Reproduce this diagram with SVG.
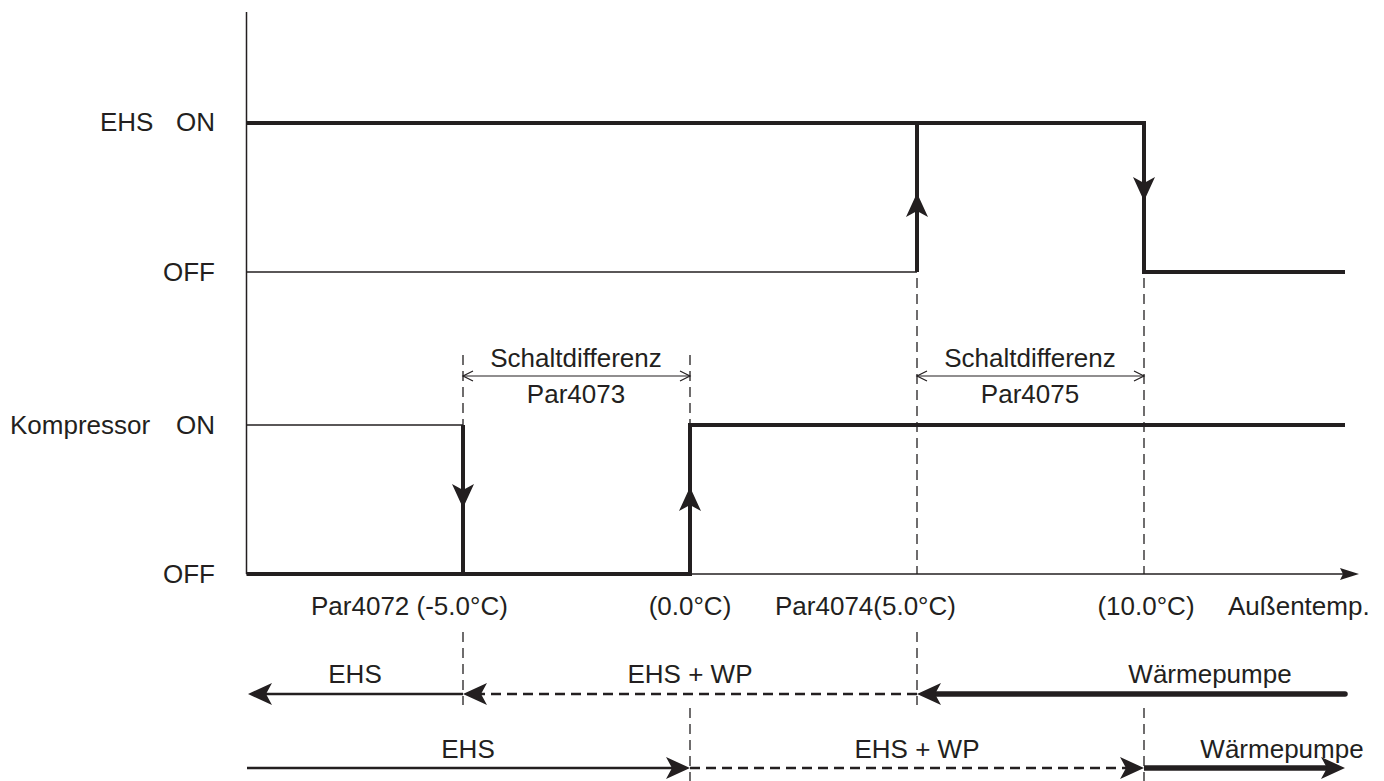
<svg xmlns="http://www.w3.org/2000/svg" width="1384" height="781" viewBox="0 0 1384 781">
<style>
text{font-family:"Liberation Sans",Arial,sans-serif;font-size:26px;fill:#231f20}
.mid{text-anchor:middle}
.end{text-anchor:end}
.thin{stroke:#231f20;stroke-width:1.5;fill:none}
.thick{stroke:#231f20;stroke-width:4;fill:none}
.guide{stroke:#231f20;stroke-width:1.3;fill:none;stroke-dasharray:10 6}
.sol{stroke:#231f20;stroke-width:2.5;fill:none}
.dash{stroke:#231f20;stroke-width:2.5;fill:none;stroke-dasharray:10 6}
.bold{stroke:#231f20;stroke-width:5.5;fill:none;stroke-linecap:round}
.dim{stroke:#231f20;stroke-width:1.2;fill:none}
.ah{fill:#231f20}
</style>
<defs>
<path id="head" d="M0,0 L-24,-11 L-18,0 L-24,11 Z"/>
<path id="axhead" d="M0,0 L-19,-6 L-16,0 L-19,6 Z"/>
<path id="chev" d="M-10,-5 L0,0 L-10,5"/>
</defs>
<g id="labels">
<text x="100" y="131">EHS</text>
<text x="215" y="131" class="end">ON</text>
<text x="215" y="281" class="end">OFF</text>
<text x="10" y="434">Kompressor</text>
<text x="215" y="434" class="end">ON</text>
<text x="215" y="583" class="end">OFF</text>
</g>
<g id="axes">
<line x1="246.5" y1="12" x2="246.5" y2="574" class="thin"/>
<line x1="246.5" y1="574" x2="1345" y2="574" class="thin"/>
<use href="#axhead" x="1359" y="574" class="ah"/>
<line x1="246.5" y1="272" x2="917" y2="272" class="thin"/>
<line x1="246.5" y1="425" x2="463" y2="425" class="thin"/>
</g>
<g id="guides">
<line x1="463" y1="355" x2="463" y2="574" class="guide"/>
<line x1="463" y1="632" x2="463" y2="705" class="guide"/>
<line x1="690" y1="355" x2="690" y2="425" class="guide"/>
<line x1="690" y1="708" x2="690" y2="781" class="guide"/>
<line x1="917" y1="278" x2="917" y2="574" class="guide"/>
<line x1="917" y1="632" x2="917" y2="705" class="guide"/>
<line x1="1144" y1="278" x2="1144" y2="574" class="guide"/>
<line x1="1144" y1="708" x2="1144" y2="781" class="guide"/>
</g>
<g id="ehs-curve">
<path d="M246.5,123 H1144 V272 H1345" class="thick"/>
<path d="M917,272 V123" class="thick"/>
<use href="#head" transform="translate(917,193) rotate(-90)" class="ah"/>
<use href="#head" transform="translate(1144,201) rotate(90)" class="ah"/>
</g>
<g id="kompressor-curve">
<path d="M246.5,574 H690 V425 H1345" class="thick"/>
<path d="M463,425 V574" class="thick"/>
<use href="#head" transform="translate(463,508) rotate(90)" class="ah"/>
<use href="#head" transform="translate(690,487) rotate(-90)" class="ah"/>
</g>
<g id="dimension-4073">
<line x1="463" y1="376" x2="690" y2="376" class="dim"/>
<use href="#chev" transform="translate(463,376) rotate(180)" class="dim"/>
<use href="#chev" transform="translate(690,376)" class="dim"/>
<text x="576" y="367" class="mid">Schaltdifferenz</text>
<text x="576" y="403" class="mid">Par4073</text>
</g>
<g id="dimension-4075">
<line x1="917" y1="376" x2="1144" y2="376" class="dim"/>
<use href="#chev" transform="translate(917,376) rotate(180)" class="dim"/>
<use href="#chev" transform="translate(1144,376)" class="dim"/>
<text x="1030" y="367" class="mid">Schaltdifferenz</text>
<text x="1030" y="403" class="mid">Par4075</text>
</g>
<g id="axis-labels">
<text x="311" y="615">Par4072 (-5.0°C)</text>
<text x="690" y="615" class="mid">(0.0°C)</text>
<text x="775" y="615">Par4074(5.0°C)</text>
<text x="1146" y="615" class="mid">(10.0°C)</text>
<text x="1228" y="615">Außentemp.</text>
</g>
<g id="connectors">
<line x1="463" y1="694" x2="266" y2="694" class="sol"/>
<use href="#head" transform="translate(248,694) rotate(180)" class="ah"/>
<line x1="917" y1="694" x2="481" y2="694" class="dash"/>
<use href="#head" transform="translate(463,694) rotate(180)" class="ah"/>
<line x1="1345" y1="694" x2="935" y2="694" class="bold"/>
<use href="#head" transform="translate(917,694) rotate(180)" class="ah"/>
<line x1="247" y1="768" x2="672" y2="768" class="sol"/>
<use href="#head" transform="translate(690,768)" class="ah"/>
<line x1="690" y1="768" x2="1126" y2="768" class="dash"/>
<use href="#head" transform="translate(1144,768)" class="ah"/>
<line x1="1144" y1="768" x2="1327" y2="768" class="bold" style="stroke-linecap:butt"/>
<use href="#head" transform="translate(1345,768)" class="ah"/>
</g>
<g id="row-labels">
<text x="355" y="683" class="mid">EHS</text>
<text x="690" y="683" class="mid">EHS + WP</text>
<text x="1210" y="683" class="mid">Wärmepumpe</text>
<text x="468" y="758" class="mid">EHS</text>
<text x="917" y="758" class="mid">EHS + WP</text>
<text x="1282" y="758" class="mid">Wärmepumpe</text>
</g>
</svg>
